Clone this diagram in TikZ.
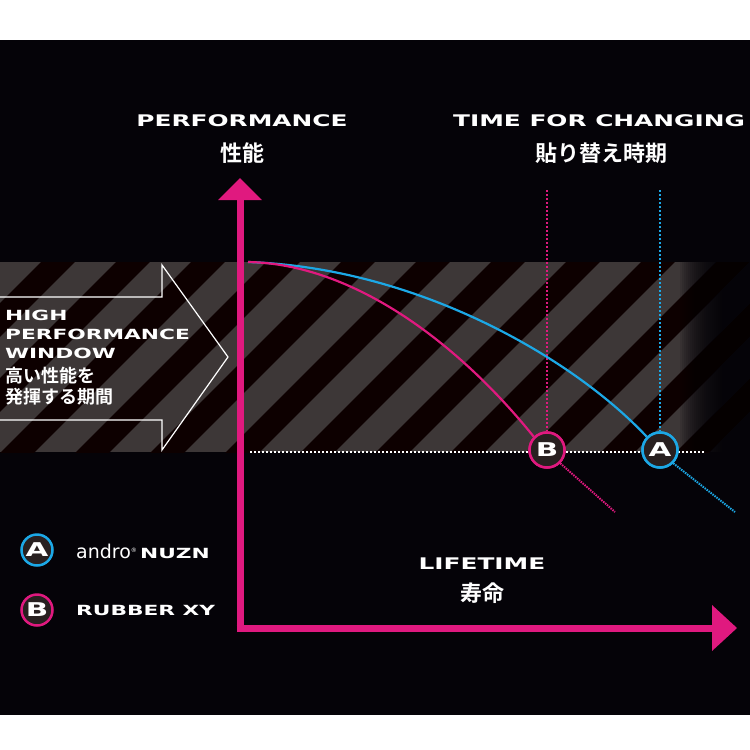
\documentclass[tikz,border=0pt]{standalone}
\usepackage{fontspec}
\setmainfont{DejaVu Sans}
\newfontfamily\jp{Noto Sans CJK JP Bold}
\newfontfamily\lat{DejaVu Sans}[FakeStretch=1.55]
\definecolor{pk}{HTML}{E0197F}
\definecolor{bl}{HTML}{1CA8E6}
\definecolor{stripe}{HTML}{3D3737}
\definecolor{dk}{HTML}{050308}
\begin{document}
\begin{tikzpicture}[x=1pt,y=-1pt,
  lab/.style={text=white,font=\lat\bfseries\fontsize{16}{19}\selectfont,inner sep=0pt},
  jl/.style={text=white,font=\jp\fontsize{22}{24}\selectfont,inner sep=0pt},
  badge/.style={circle,minimum size=35pt,inner sep=0pt,fill={rgb,255:red,40;green,32;blue,32},line width=2.5pt,text=white,font=\lat\bfseries\fontsize{19}{19}\selectfont},
  axis/.style={pk,line width=7pt}]
\useasboundingbox (0,0) rectangle (750,750);
\fill[white] (0,0) rectangle (750,750);
\fill[dk] (0,40) rectangle (750,715);
% band
\begin{scope}
\clip (0,262) rectangle (750,452);
\fill[stripe] (0,262) rectangle (750,452);
\foreach \i in {-4,...,14} {
  \draw[black!95!red,line width=24pt] (\i*75,470) -- ++(250,-250);
}
\foreach \k in {0,...,29} {
  \fill[dk,opacity=0.1] (680+\k*2,262) rectangle (750,452);
}
\end{scope}
% window arrow
\draw[white,line width=1.2pt] (0,297) -- (162,297) -- (162,265) -- (228,357) -- (162,450) -- (162,420) -- (0,420);
\node[lab,anchor=west,align=left,font=\lat\bfseries\fontsize{14}{19}\selectfont] (hpw) at (5,334) {HIGH\\PERFORMANCE\\WINDOW};
\node[jl,anchor=north west,align=left,font=\jp\fontsize{18}{21}\selectfont] (hpj) at (5,367) {高い性能を\\発揮する期間};
% dotted lines
\coordinate (h0) at (250,452);
\coordinate (h1) at (705,452);
\draw[white,line width=1.5pt,dash pattern=on 1.5pt off 2.5pt] (h0) -- (h1);
\node[badge,draw=pk] (B) at (547,450) {B};
\node[badge,draw=bl] (A) at (660,450) {A};
\coordinate (tb) at (547,190);
\coordinate (ta) at (660,190);
\draw[pk,line width=1.5pt,dash pattern=on 1.5pt off 2.5pt] (tb) -- (B.north);
\draw[bl,line width=1.5pt,dash pattern=on 1.5pt off 2.5pt] (ta) -- (A.north);
% curves
\coordinate (s) at (248,262);
\draw[bl,line width=2.2pt] (s) .. controls (420,268) and (575,360) .. (A.north west);
\draw[pk,line width=2.2pt] (s) .. controls (355,264) and (460,345) .. (B.north west);
\coordinate (ea) at (735,512);
\coordinate (eb) at (615,512);
\draw[bl,line width=2pt,dash pattern=on 1.5pt off 1pt] (A.south east) -- (ea);
\draw[pk,line width=2pt,dash pattern=on 1.5pt off 1pt] (B.south east) -- (eb);
\node[badge,draw=pk] at (547,450) {B};
\node[badge,draw=bl] at (660,450) {A};
% axes
\coordinate (yt) at (240,178);
\coordinate (xt) at (737,628);
\draw[axis] (240,632) -- (240,198);
\fill[pk] (yt) -- (218,200) -- (262,200) -- cycle;
\draw[axis] (236.5,628) -- (714,628);
\fill[pk] (xt) -- (712,605) -- (712,651) -- cycle;
% labels
\node[lab] (perf) at (242,121) {PERFORMANCE};
\node[jl] (perfj) at (242,153) {性能};
\node[lab] (tfc) at (599,121) {TIME FOR CHANGING};
\node[jl] (tfcj) at (601,153) {貼り替え時期};
\node[lab] (life) at (482,564) {LIFETIME};
\node[jl] (lifej) at (482,593) {寿命};
% legend
\node[badge,draw=bl,minimum size=31pt] (la) at (37,550) {A};
\node[badge,draw=pk,minimum size=31pt] (lb) at (37,610) {B};
\node[text=white,anchor=west,inner sep=0pt] (na) at (76,551) {\fontsize{19}{19}\selectfont andro\raisebox{6pt}{\fontsize{6}{6}\selectfont ®}\,{\lat\bfseries\fontsize{14}{14}\selectfont NUZN}};
\node[lab,anchor=west,font=\lat\bfseries\fontsize{14}{14}\selectfont] (nb) at (76,610) {RUBBER XY};
\end{tikzpicture}
\end{document}
